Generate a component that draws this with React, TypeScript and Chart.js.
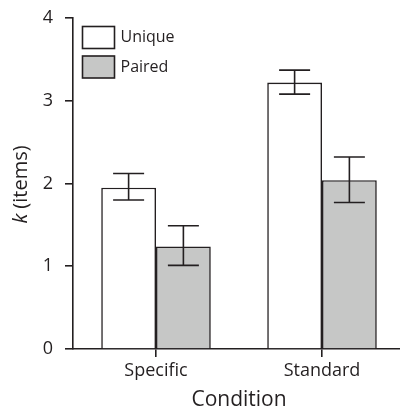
import React, { useEffect, useRef } from "react";
import { Chart, registerables } from "chart.js";

Chart.register(...registerables);

const categories = ["Specific", "Standard"];
const seriesNames = ["Unique", "Paired"];
const uniqueValues = [1.95, 3.22];
const uniqueErrLow = [1.8, 3.08];
const uniqueErrHigh = [2.12, 3.37];
const pairedValues = [1.24, 2.04];
const pairedErrLow = [1.01, 1.77];
const pairedErrHigh = [1.49, 2.32];
const yTicks = [0, 1, 2, 3, 4];

const INK = "#231f20";
const FONT = "'Open Sans', 'DejaVu Sans', sans-serif";

const errorBarPlugin = {
  id: "errorBars",
  afterDatasetsDraw(chart: any) {
    const ctx = chart.ctx;
    const y = chart.scales.y;
    chart.data.datasets.forEach((ds: any, di: number) => {
      const meta = chart.getDatasetMeta(di);
      meta.data.forEach((el: any, i: number) => {
        const lo = y.getPixelForValue(ds.errLow[i]);
        const hi = y.getPixelForValue(ds.errHigh[i]);
        const x = el.x;
        const cap = 15.5;
        ctx.save();
        ctx.strokeStyle = INK;
        ctx.lineWidth = 1.6;
        ctx.beginPath();
        ctx.moveTo(x, lo);
        ctx.lineTo(x, hi);
        ctx.moveTo(x - cap, lo);
        ctx.lineTo(x + cap, lo);
        ctx.moveTo(x - cap, hi);
        ctx.lineTo(x + cap, hi);
        ctx.stroke();
        ctx.restore();
      });
    });
  },
};

const legendPlugin = {
  id: "insideLegend",
  afterDraw(chart: any) {
    const ctx = chart.ctx;
    const area = chart.chartArea;
    ctx.save();
    chart.data.datasets.forEach((ds: any, i: number) => {
      const bx = area.left + 9.5;
      const by = area.top + 8.5 + i * 29.5;
      ctx.fillStyle = ds.backgroundColor;
      ctx.fillRect(bx, by, 32, 22);
      ctx.strokeStyle = INK;
      ctx.lineWidth = 1.6;
      ctx.strokeRect(bx, by, 32, 22);
      ctx.fillStyle = INK;
      ctx.font = `16px ${FONT}`;
      ctx.textBaseline = "middle";
      ctx.textAlign = "left";
      ctx.fillText(ds.label, bx + 38, by + 11);
    });
    ctx.restore();
  },
};

const yTitlePlugin = {
  id: "yTitle",
  afterDraw(chart: any) {
    const ctx = chart.ctx;
    const area = chart.chartArea;
    const cy = (area.top + area.bottom) / 2 + 1;
    const cx = 21;
    ctx.save();
    ctx.translate(cx, cy);
    ctx.rotate(-Math.PI / 2);
    ctx.fillStyle = INK;
    ctx.textBaseline = "middle";
    const italic = `italic 20px ${FONT}`;
    const normal = `20px ${FONT}`;
    ctx.font = italic;
    const w1 = ctx.measureText("k").width;
    ctx.font = normal;
    const w2 = ctx.measureText(" (items)").width;
    const start = -(w1 + w2) / 2;
    ctx.textAlign = "left";
    ctx.font = italic;
    ctx.fillText("k", start, 0);
    ctx.font = normal;
    ctx.fillText(" (items)", start + w1, 0);
    ctx.restore();
  },
};

export default function App() {
  const ref = useRef<HTMLCanvasElement | null>(null);

  useEffect(() => {
    if (!ref.current) return;
    const chart = new Chart(ref.current, {
      type: "bar",
      data: {
        labels: categories,
        datasets: [
          {
            label: seriesNames[0],
            data: uniqueValues,
            errLow: uniqueErrLow,
            errHigh: uniqueErrHigh,
            backgroundColor: "#ffffff",
            borderColor: INK,
            borderWidth: 1.6,
            categoryPercentage: 0.66,
            barPercentage: 1.0,
          } as any,
          {
            label: seriesNames[1],
            data: pairedValues,
            errLow: pairedErrLow,
            errHigh: pairedErrHigh,
            backgroundColor: "#c6c7c6",
            borderColor: INK,
            borderWidth: 1.6,
            categoryPercentage: 0.66,
            barPercentage: 1.0,
          } as any,
        ],
      },
      options: {
        animation: false,
        responsive: false,
        devicePixelRatio: 1,
        layout: { padding: { top: 18, left: 0, right: 0, bottom: 0 } },
        plugins: {
          legend: { display: false },
          tooltip: { enabled: false },
        },
        scales: {
          x: {
            offset: true,
            grid: {
              display: true,
              drawOnChartArea: false,
              drawTicks: true,
              tickLength: 8,
              color: INK,
              lineWidth: 1.6,
              offset: false,
            },
            border: { display: true, color: INK, width: 1.6 },
            ticks: {
              color: INK,
              font: { family: FONT, size: 18 },
              padding: 3,
            },
            title: {
              display: true,
              text: "Condition",
              color: INK,
              font: { family: FONT, size: 21, lineHeight: 0.75 },
              padding: { top: 0, bottom: 0 },
            },
            afterFit: (axis: any) => {
              axis.height = 59;
              axis.paddingLeft = 0;
              axis.paddingRight = 0;
            },
          },
          y: {
            min: 0,
            max: 4,
            afterBuildTicks: (axis: any) => {
              axis.ticks = yTicks.map((v) => ({ value: v }));
            },
            grid: {
              display: true,
              drawOnChartArea: false,
              drawTicks: true,
              tickLength: 8,
              color: INK,
              lineWidth: 1.6,
            },
            border: { display: true, color: INK, width: 1.6 },
            ticks: {
              color: INK,
              font: { family: FONT, size: 18 },
              padding: 12,
            },
            afterFit: (axis: any) => {
              axis.width = 73;
              axis.paddingTop = 0;
              axis.paddingBottom = 0;
            },
          },
        },
      } as any,
      plugins: [errorBarPlugin, legendPlugin, yTitlePlugin],
    });
    return () => chart.destroy();
  }, []);

  return (
    <div
      style={{
        position: "fixed",
        left: 0,
        top: 0,
        width: 400,
        height: 408,
        overflow: "hidden",
        background: "#fff",
      }}
    >
      <canvas ref={ref} width={405} height={408} style={{ width: 405, height: 408 }} />
    </div>
  );
}
